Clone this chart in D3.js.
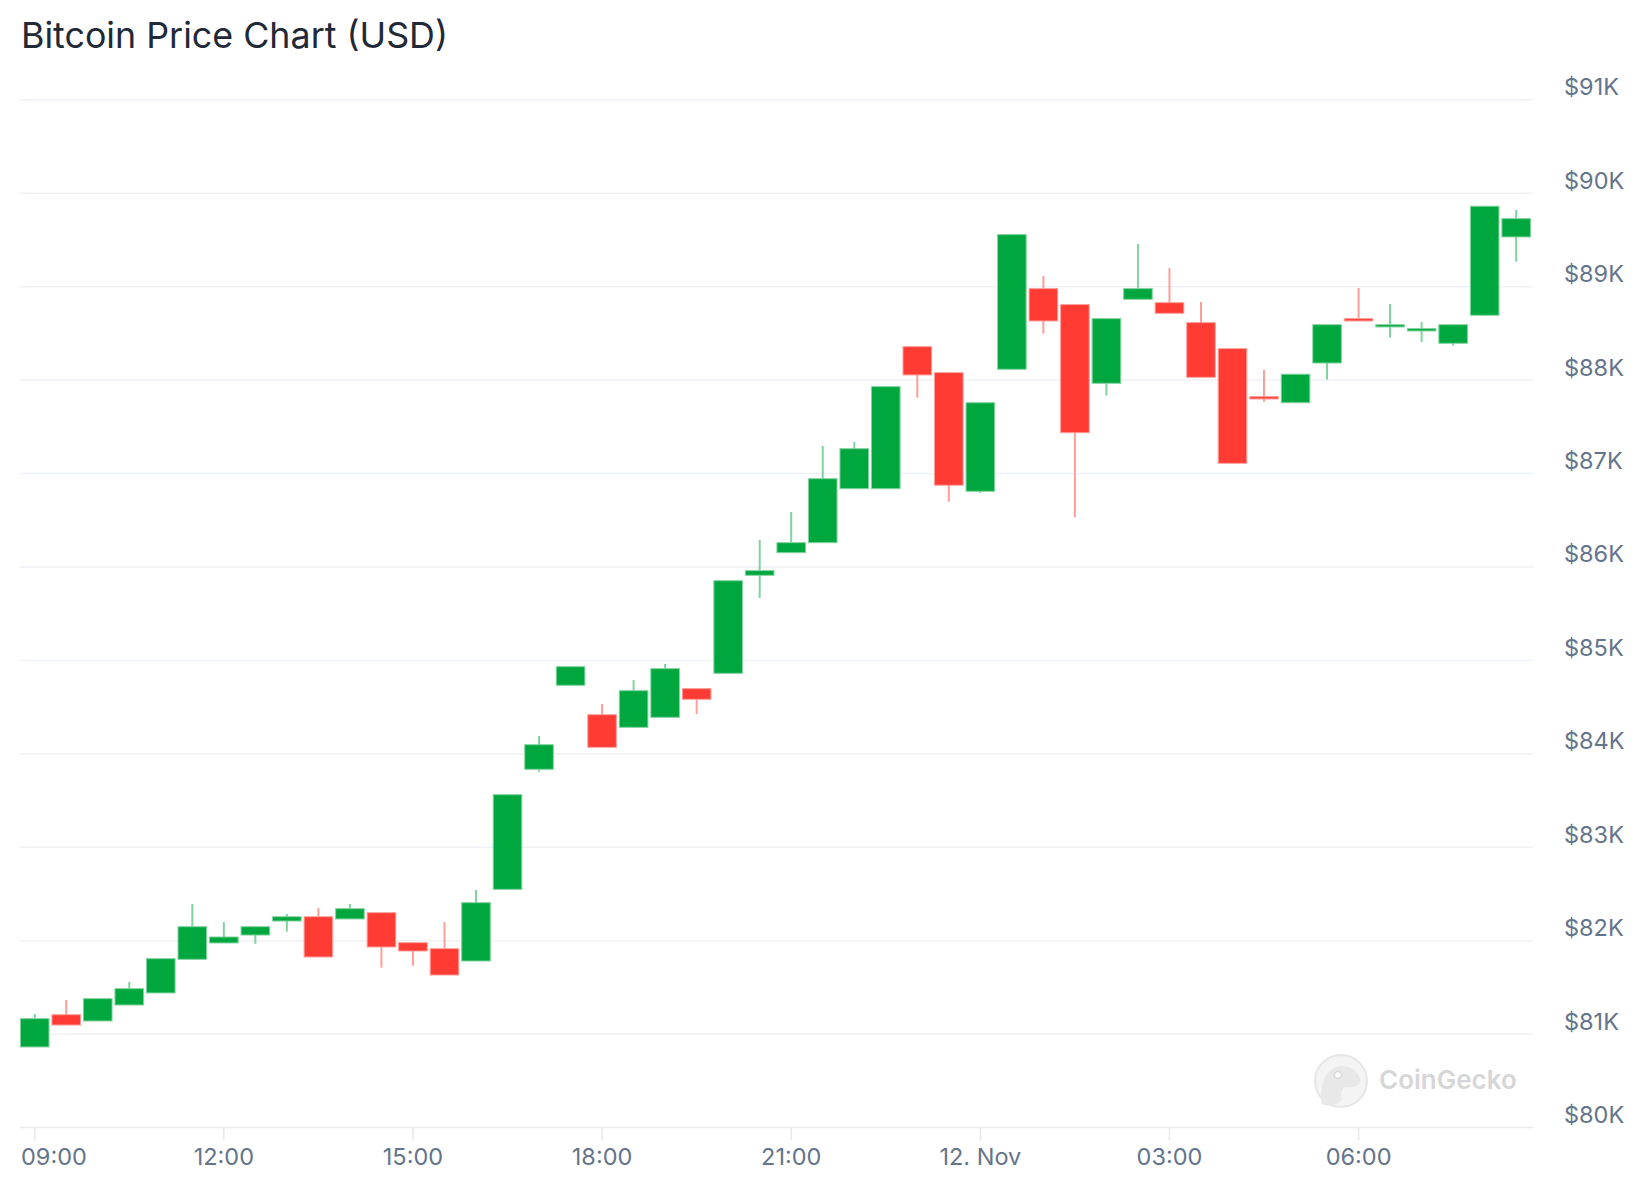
<!DOCTYPE html>
<html><head><meta charset="utf-8">
<script src="https://cdn.jsdelivr.net/npm/d3@7"></script>
<style>html,body{margin:0;padding:0;background:#fff;}svg{display:block;font-family:Inter,"Noto Sans",sans-serif;}</style>
</head><body><div id="chart"></div>
<script>
const times = ["2024-11-11T09:00","2024-11-11T09:30","2024-11-11T10:00","2024-11-11T10:30","2024-11-11T11:00","2024-11-11T11:30",
"2024-11-11T12:00","2024-11-11T12:30","2024-11-11T13:00","2024-11-11T13:30","2024-11-11T14:00","2024-11-11T14:30",
"2024-11-11T15:00","2024-11-11T15:30","2024-11-11T16:00","2024-11-11T16:30","2024-11-11T17:00","2024-11-11T17:30",
"2024-11-11T18:00","2024-11-11T18:30","2024-11-11T19:00","2024-11-11T19:30","2024-11-11T20:00","2024-11-11T20:30",
"2024-11-11T21:00","2024-11-11T21:30","2024-11-11T22:00","2024-11-11T22:30","2024-11-11T23:00","2024-11-11T23:30",
"2024-11-12T00:00","2024-11-12T00:30","2024-11-12T01:00","2024-11-12T01:30","2024-11-12T02:00","2024-11-12T02:30",
"2024-11-12T03:00","2024-11-12T03:30","2024-11-12T04:00","2024-11-12T04:30","2024-11-12T05:00","2024-11-12T05:30",
"2024-11-12T06:00","2024-11-12T06:30","2024-11-12T07:00","2024-11-12T07:30","2024-11-12T08:00","2024-11-12T08:30"];
const open  = [80863,81208,81141,81312,81441,81801,81976,82061,82211,82257,82233,82300,81979,81915,81783,82550,83835,84734,84419,84284,84391,84698,84862,85911,86153,86260,86838,86838,88358,88080,86810,88116,88979,88808,87966,88865,88829,88615,88337,87823,87758,88183,88658,88569,88526,88394,88694,89532];
const high  = [81216,81366,81380,81558,81808,82393,82200,82150,82286,82350,82393,82300,81979,82200,82543,83563,84191,84933,84534,84791,84962,84698,85853,86289,86589,87295,87338,87930,88358,88080,87758,89557,89115,88808,88658,89457,89200,88836,88337,88109,88063,88593,88986,88815,88622,88593,89861,89821];
const low   = [80863,81098,81141,81312,81441,81801,81976,81968,82097,81826,82233,81711,81733,81633,81783,82550,83809,84734,84070,84284,84391,84427,84862,85668,86153,86260,86838,86838,87812,86699,86790,88116,88497,86532,87834,88865,88715,88030,87110,87769,87758,88005,88633,88454,88408,88369,88694,89268];
const close = [81166,81098,81380,81487,81808,82150,82040,82150,82257,81826,82343,81933,81890,81633,82407,83563,84098,84933,84070,84676,84912,84584,85853,85961,86260,86945,87266,87930,88055,86875,87758,89557,88633,87437,88658,88979,88715,88030,87110,87798,88063,88593,88633,88593,88551,88593,89861,89728];
const yTicks = [80000,81000,82000,83000,84000,85000,86000,87000,88000,89000,90000,91000];
const xTickTimes  = ["2024-11-11T09:00","2024-11-11T12:00","2024-11-11T15:00","2024-11-11T18:00","2024-11-11T21:00","2024-11-12T00:00","2024-11-12T03:00","2024-11-12T06:00"];
const xTickLabels = ["09:00","12:00","15:00","18:00","21:00","12. Nov","03:00","06:00"];
const chartTitle = "Bitcoin Price Chart (USD)";

(function(){
const W = 1644, H = 1200;
const pL = 20, pR = 1533, pT = 99.8, pB = 1127.6;
const parse = s => new Date(s);
const data = times.map((t,i)=>({t:parse(t),o:open[i],h:high[i],l:low[i],c:close[i]}));

const svg = d3.select("#chart").append("svg").attr("width",W).attr("height",H);

const x = d3.scaleTime().domain([new Date(2024,10,11,8,46), new Date(2024,10,12,8,46)]).range([pL,pR]);
const y = d3.scaleLinear().domain([80000,91000]).range([pB,pT]);

svg.append("text").attr("x",21).attr("y",48).attr("font-size",35.8).attr("fill","#1f2937").text(chartTitle);

svg.append("g").selectAll("line").data(yTicks).join("line")
  .attr("x1",pL).attr("x2",pR).attr("y1",d=>y(d)).attr("y2",d=>y(d))
  .attr("stroke",d=>d===80000?"#e6e9ee":"#eef1f5").attr("stroke-width",1.5);

svg.append("g").selectAll("text").data(yTicks).join("text")
  .attr("x",1564).attr("y",d=>y(d)-4.5).attr("font-size",23.5).attr("fill","#64748b")
  .text(d=>"$"+(d/1000)+"K");

const xt = xTickTimes.map(parse);
svg.append("g").selectAll("line").data(xt).join("line")
  .attr("x1",d=>x(d)).attr("x2",d=>x(d)).attr("y1",pB).attr("y2",pB+13)
  .attr("stroke","#e6e9ee").attr("stroke-width",1.5);
svg.append("g").selectAll("text").data(xt).join("text")
  .attr("x",(d,i)=> i===0 ? 21 : x(d)).attr("y",1165)
  .attr("text-anchor",(d,i)=> i===0 ? "start":"middle")
  .attr("font-size",23.5).attr("fill","#64748b")
  .text((d,i)=>xTickLabels[i]);

const wm = svg.append("g");
wm.append("circle").attr("cx",1341).attr("cy",1081).attr("r",26).attr("fill","#f4f4f4").attr("stroke","#e6e6e6").attr("stroke-width",2);
wm.append("path").attr("d","M1322,1104 C1320,1090 1322,1074 1334,1068 C1344,1063 1356,1068 1360,1078 C1362,1084 1356,1088 1348,1087 C1342,1086 1340,1092 1342,1100 C1336,1106 1328,1107 1322,1104 Z")
  .attr("fill","#e8e8e8");
wm.append("circle").attr("cx",1338).attr("cy",1075).attr("r",3.5).attr("fill","#fafafa").attr("stroke","#d9d9d9").attr("stroke-width",1.5);
wm.append("text").attr("x",1379).attr("y",1089).attr("font-size",26).attr("font-weight",600).attr("fill","#d6d6d6").text("CoinGecko");

const step = x(new Date(2024,10,11,9,30)) - x(new Date(2024,10,11,9,0));
const bw = step*0.907;
const up = "#00a63e", dn = "#ff3b33", upW = "#80d39f", dnW = "#ff9d99";
const g = svg.append("g");
const c = g.selectAll("g").data(data).join("g");
c.append("line")
  .attr("x1",d=>x(d.t)).attr("x2",d=>x(d.t))
  .attr("y1",d=>y(d.h)).attr("y2",d=>y(d.l))
  .attr("stroke",d=>d.c>=d.o?upW:dnW).attr("stroke-width",2);
c.append("rect")
  .attr("x",d=>x(d.t)-bw/2).attr("width",bw)
  .attr("y",d=>y(Math.max(d.o,d.c)))
  .attr("height",d=>Math.max(2,Math.abs(y(d.o)-y(d.c))))
  .attr("fill",d=>d.c>=d.o?up:dn)
  .attr("stroke",d=>d.c>=d.o?upW:dnW).attr("stroke-width",1);
})();
</script></body></html>
